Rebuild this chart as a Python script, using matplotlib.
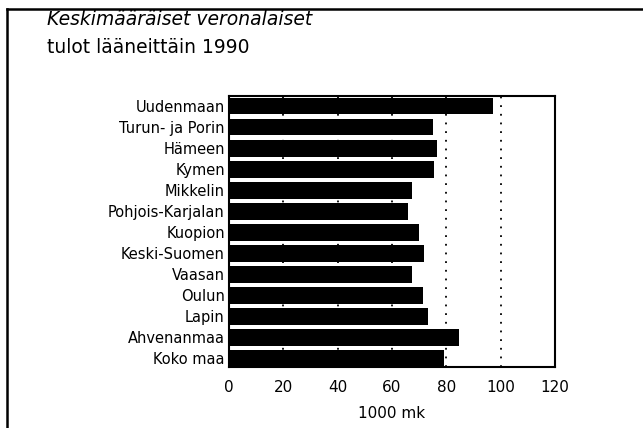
import matplotlib
matplotlib.use("Agg")
import matplotlib.pyplot as plt
from matplotlib.lines import Line2D

categories = ["Uudenmaan", "Turun- ja Porin", "Hämeen", "Kymen", "Mikkelin",
              "Pohjois-Karjalan", "Kuopion", "Keski-Suomen", "Vaasan", "Oulun",
              "Lapin", "Ahvenanmaa", "Koko maa"]
values = [97.0, 75.0, 76.6, 75.6, 67.2, 65.8, 70.0, 71.8, 67.5, 71.5, 73.1, 84.8, 79.1]
xticks = [0, 20, 40, 60, 80, 100, 120]

plt.rcParams['font.family'] = ['DejaVu Sans']

W, H = 643, 428
fig = plt.figure(figsize=(W/100, H/100), dpi=100)
ax = fig.add_axes([229/W, 1-367/H, (555-229)/W, (367-96)/H])

ypos = list(range(len(categories)))
ax.barh(ypos, values, height=0.8, color='black', zorder=3)
ax.set_xlim(0, 120)
ax.set_ylim(12.42, -0.48)
ax.set_xticks(xticks)
ax.set_xticklabels([str(t) for t in xticks], fontsize=11)
ax.set_yticks(ypos)
ax.set_yticklabels(categories, fontsize=10.5)
ax.tick_params(axis='both', length=0, pad=3)
ax.tick_params(axis='x', pad=9)
ax.xaxis.grid(True, linestyle=(0, (1, 3.8)), color='black', linewidth=1.3, zorder=1)
ax.set_axisbelow(True)
for s in ax.spines.values():
    s.set_linewidth(1.5)
    s.set_color('black')
ax.set_xlabel("1000 mk", fontsize=11, labelpad=8)

fig.text(47/W, 1-25/H, "Keskimääräiset veronalaiset", fontsize=13.5,
         style='italic', va='baseline', ha='left')
fig.text(47/W, 1-53/H, "tulot lääneittäin 1990", fontsize=13.5,
         va='baseline', ha='left')

fig.add_artist(Line2D([7/W, 7/W], [0, 1-9/H], color='black', linewidth=1.8,
                      transform=fig.transFigure))
fig.add_artist(Line2D([7/W, 1], [1-9/H, 1-9/H], color='black', linewidth=1.8,
                      transform=fig.transFigure))

fig.savefig("out.png", dpi=100)
